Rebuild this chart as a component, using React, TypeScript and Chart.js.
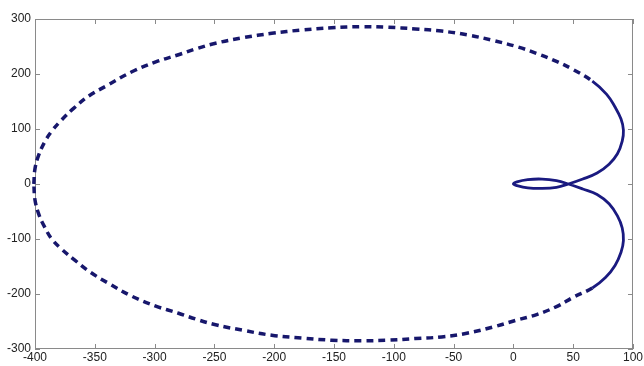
import React, { useEffect, useRef } from "react";
import { Chart, registerables } from "chart.js";

Chart.register(...registerables);

// Upper arc (dashed): from the leftmost point across the top to the upper-right
const topX = [-401, -400, -397, -392, -386, -378, -368, -355, -339, -319, -299, -280, -265, -249, -226, -202, -177, -152, -127, -105, -82, -60, -38, -17, 4, 20, 37, 50, 66];
const topY = [0, 28, 52, 76, 96, 116, 137, 160, 180, 204, 222, 235, 246, 256, 266, 274, 280, 284, 286, 285, 282, 278, 271, 261, 249, 237, 222, 208, 187];

// Right lobe and inner loop (dense, appears solid)
const loopX = [78, 85, 90, 92, 91, 87, 80, 70, 58, 46, 36, 24, 12, 3, 0, 3, 12, 24, 36, 46, 58, 70, 80, 87, 91, 92, 90, 85, 77];
const loopY = [163, 140, 118, 98, 78, 55, 36, 20, 9, 0, -6, -8, -7, -3, 0, 4, 8, 9, 6, 0, -9, -19, -36, -58, -80, -103, -124, -148, -170];

// Lower arc (dashed): from the lower-right back to the leftmost point
const bottomX = [66, 50, 37, 20, 2, -17, -38, -60, -82, -105, -127, -152, -177, -202, -226, -249, -265, -280, -299, -319, -339, -354, -367, -378, -386, -392, -397, -400, -401];
const bottomY = [-189, -206, -222, -237, -248, -260, -271, -278, -281, -284, -285, -284, -280, -275, -266, -256, -246, -235, -222, -204, -180, -160, -138, -118, -100, -78, -54, -29, 0];

const xTicks = [-400, -350, -300, -250, -200, -150, -100, -50, 0, 50, 100];
const yTicks = [-300, -200, -100, 0, 100, 200, 300];

const allX = [...topX, ...loopX, ...bottomX];
const allY = [...topY, ...loopY, ...bottomY];
const solidFrom = topX.length - 1;
const solidTo = topX.length + loopX.length;

const boxPlugin = {
  id: "matlabBox",
  beforeDatasetsDraw(chart: any) {
    const { ctx, chartArea: a, scales } = chart;
    ctx.save();
    ctx.strokeStyle = "#8a8a8a";
    ctx.lineWidth = 1;
    ctx.strokeRect(a.left + 0.5, a.top + 0.5, a.right - a.left - 1, a.bottom - a.top - 1);
    ctx.beginPath();
    const L = 5;
    for (const v of xTicks) {
      const px = Math.round(scales.x.getPixelForValue(v)) + 0.5;
      ctx.moveTo(px, a.bottom);
      ctx.lineTo(px, a.bottom - L);
      ctx.moveTo(px, a.top);
      ctx.lineTo(px, a.top + L);
    }
    for (const v of yTicks) {
      const py = Math.round(scales.y.getPixelForValue(v)) + 0.5;
      ctx.moveTo(a.left, py);
      ctx.lineTo(a.left + L, py);
      ctx.moveTo(a.right, py);
      ctx.lineTo(a.right - L, py);
    }
    ctx.stroke();
    ctx.restore();
  },
};

export default function App() {
  const ref = useRef<HTMLCanvasElement>(null);
  useEffect(() => {
    if (!ref.current) return;
    const isSolid = (c: any) => c.p0DataIndex >= solidFrom && c.p0DataIndex < solidTo;
    const chart = new Chart(ref.current, {
      type: "scatter",
      data: {
        datasets: [
          {
            data: allX.map((x, i) => ({ x, y: allY[i] })),
            showLine: true,
            borderColor: "#17176c",
            borderWidth: 3.5,
            borderCapStyle: "butt",
            tension: 0.4,
            pointRadius: 0,
            clip: false as any,
            segment: {
              borderDash: (c: any) => (isSolid(c) ? [] : [7, 5]),
              borderWidth: (c: any) => (isSolid(c) ? 2.8 : 3.5),
              borderColor: (c: any) => (isSolid(c) ? "#1a1a80" : "#17176c"),
            },
          },
        ],
      },
      options: {
        animation: false,
        responsive: false,
        maintainAspectRatio: false,
        layout: { padding: { top: 19, right: 9, left: 0, bottom: 0 } },
        plugins: { legend: { display: false }, tooltip: { enabled: false } },
        scales: {
          x: {
            type: "linear",
            min: -400,
            max: 100,
            afterBuildTicks: (s: any) => { s.ticks = xTicks.map((v) => ({ value: v })); },
            afterFit: (s: any) => { s.height = 17; },
            grid: { display: false, drawTicks: false },
            border: { display: false },
            ticks: { padding: 1, color: "#222", font: { family: "'Liberation Sans', Arial", size: 12 }, maxRotation: 0, autoSkip: false },
          },
          y: {
            type: "linear",
            min: -300,
            max: 300,
            afterBuildTicks: (s: any) => { s.ticks = yTicks.map((v) => ({ value: v })); },
            afterFit: (s: any) => { s.width = 35; },
            grid: { display: false, drawTicks: false },
            border: { display: false },
            ticks: { padding: 4, color: "#222", font: { family: "'Liberation Sans', Arial", size: 12 }, autoSkip: false },
          },
        },
      },
      plugins: [boxPlugin],
    });
    return () => chart.destroy();
  }, []);
  return (
    <div style={{ position: "fixed", left: 0, top: 0, width: 644, height: 366, background: "#fff" }}>
      <canvas ref={ref} width={644} height={366} />
    </div>
  );
}
